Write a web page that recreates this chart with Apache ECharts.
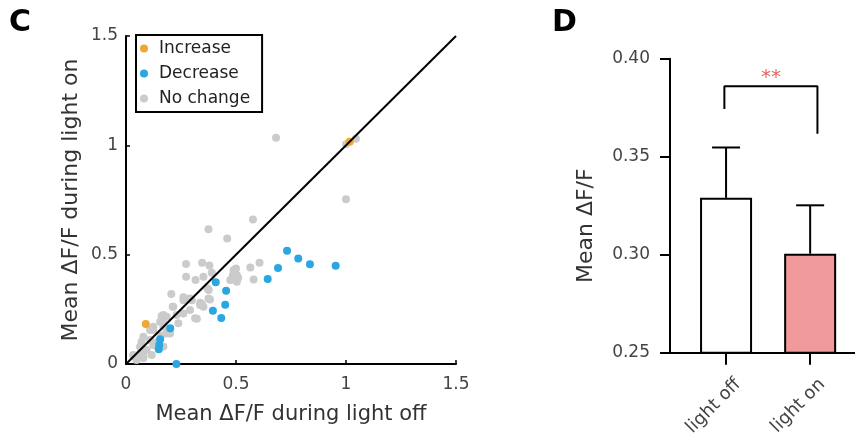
<!DOCTYPE html>
<html><head><meta charset="utf-8">
<script src="https://cdn.jsdelivr.net/npm/echarts@6/dist/echarts.min.js"></script>
<style>html,body{margin:0;padding:0;background:#fff}#c{width:855px;height:437px}</style>
</head><body><div id="c"></div>
<script>
// ---- Panel C data (x: light off, y: light on) ----
const increasePts = [[0.09, 0.183], [1.017, 1.016]];
const decreasePts = [
  [0.201, 0.163], [0.155, 0.113], [0.151, 0.087], [0.149, 0.067], [0.229, 0.0],
  [0.408, 0.374], [0.455, 0.335], [0.451, 0.271], [0.395, 0.244], [0.433, 0.210],
  [0.644, 0.389], [0.691, 0.439], [0.732, 0.518], [0.783, 0.483], [0.836, 0.456], [0.953, 0.449]
];
const noChangePts = [
  [0.682, 1.035], [0.577, 0.661], [0.375, 0.616], [0.46, 0.574], [1.0, 0.753],
  [1.0, 1.005], [1.045, 1.03],
  [0.273, 0.457], [0.346, 0.463], [0.379, 0.451], [0.5, 0.437], [0.565, 0.441], [0.607, 0.463],
  [0.58, 0.387], [0.496, 0.432], [0.504, 0.376], [0.273, 0.399], [0.316, 0.384], [0.352, 0.399],
  [0.39, 0.417], [0.489, 0.429], [0.504, 0.406], [0.474, 0.384], [0.51, 0.395], [0.486, 0.407],
  [0.376, 0.338], [0.37, 0.346], [0.206, 0.32], [0.261, 0.292], [0.261, 0.305], [0.291, 0.3],
  [0.299, 0.292], [0.337, 0.28], [0.382, 0.295], [0.375, 0.3], [0.352, 0.262], [0.345, 0.274],
  [0.337, 0.27], [0.212, 0.262], [0.215, 0.262], [0.291, 0.247], [0.322, 0.207], [0.314, 0.209],
  [0.162, 0.219], [0.17, 0.224], [0.185, 0.216], [0.23, 0.224], [0.261, 0.231], [0.155, 0.193],
  [0.17, 0.186], [0.238, 0.186], [0.124, 0.17], [0.109, 0.155], [0.124, 0.156], [0.17, 0.17],
  [0.2, 0.14], [0.185, 0.14], [0.16, 0.13], [0.14, 0.1], [0.079, 0.125], [0.071, 0.102],
  [0.109, 0.11], [0.124, 0.087], [0.17, 0.08], [0.094, 0.064], [0.064, 0.049], [0.064, 0.079],
  [0.033, 0.037], [0.033, 0.041], [0.079, 0.026], [0.079, 0.034], [0.048, 0.018], [0.117, 0.041]
];
const diagonal = [[0, 0], [1.5, 1.5]];
const legendNames = ['Increase', 'Decrease', 'No change'];

// ---- Panel D data ----
const barCategories = ['light off', 'light on'];
const barPositions = [1, 2.5];
const barMeans = [0.329, 0.3005];
const barUpper = [0.3547, 0.3252];
const barColors = ['#FFFFFF', '#F19A9C'];
const bracket = [[0.97, 0.3744], [0.97, 0.3859], [2.63, 0.3859], [2.63, 0.3617]];
const sigPos = [[1.8, 0.3905]];
const sigLabel = '**';
const barTicks = [0.25, 0.30, 0.35, 0.40];

const FONT = 'DejaVu Sans';
const chart = echarts.init(document.getElementById('c'), null, {renderer: 'canvas'});
chart.setOption({
  animation: false,
  backgroundColor: '#fff',
  textStyle: {fontFamily: FONT},
  graphic: [
    {type: 'text', left: 9, top: 8, style: {text: 'C', font: 'bold 30px "DejaVu Sans"', fill: '#000'}},
    {type: 'text', left: 552, top: 8, style: {text: 'D', font: 'bold 30px "DejaVu Sans"', fill: '#000'}}
  ],
  legend: {
    data: legendNames,
    orient: 'vertical', left: 136, top: 35,
    icon: 'circle', itemWidth: 8, itemHeight: 8, itemGap: 8,
    padding: [5, 12, 5, 4],
    borderColor: '#000', borderWidth: 2, backgroundColor: '#fff',
    textStyle: {fontFamily: FONT, fontSize: 17, color: '#222', lineHeight: 16, padding: [0, 0, 0, 6]},
    selectedMode: false
  },
  grid: [
    {left: 126, top: 36, width: 330, height: 328, outerBoundsMode: 'none', containLabel: false},
    {left: 670, top: 58.7, width: 185, height: 294, outerBoundsMode: 'none', containLabel: false}
  ],
  xAxis: [
    {
      type: 'value', gridIndex: 0, min: 0, max: 1.5, interval: 0.5,
      name: 'Mean ΔF/F during light off', nameLocation: 'middle', nameGap: 40,
      nameTextStyle: {fontFamily: FONT, fontSize: 21, color: '#333'},
      axisLine: {show: true, lineStyle: {color: '#000', width: 2}},
      axisTick: {show: true, inside: true, length: 4, lineStyle: {color: '#000', width: 1.5}},
      axisLabel: {fontFamily: FONT, fontSize: 17, color: '#444', margin: 12},
      splitLine: {show: false}
    },
    {
      type: 'value', gridIndex: 1, min: 0, max: 3.3,
      axisLine: {show: true, lineStyle: {color: '#000', width: 2}},
      axisTick: {show: true, length: 12, customValues: barPositions, lineStyle: {color: '#000', width: 2}},
      axisLabel: {
        customValues: barPositions, rotate: 45, margin: 17,
        verticalAlign: 'top', lineHeight: 34,
        fontFamily: FONT, fontSize: 18, color: '#444',
        formatter: v => barCategories[barPositions.indexOf(v)] || ''
      },
      splitLine: {show: false}
    }
  ],
  yAxis: [
    {
      type: 'value', gridIndex: 0, min: 0, max: 1.5, interval: 0.5,
      name: 'Mean ΔF/F during light on', nameLocation: 'middle', nameGap: 44,
      nameTextStyle: {fontFamily: FONT, fontSize: 22, color: '#333'},
      axisLine: {show: true, lineStyle: {color: '#000', width: 2}},
      axisTick: {show: true, inside: true, length: 4, lineStyle: {color: '#000', width: 1.5}},
      axisLabel: {fontFamily: FONT, fontSize: 17, color: '#444', margin: 8},
      splitLine: {show: false}
    },
    {
      type: 'value', gridIndex: 1, min: barTicks[0], max: barTicks[barTicks.length - 1], interval: 0.05,
      name: 'Mean ΔF/F', nameLocation: 'middle', nameGap: 73,
      nameTextStyle: {fontFamily: FONT, fontSize: 22, color: '#333', padding: [0, 40, 0, 0]},
      axisLine: {show: true, lineStyle: {color: '#000', width: 2}},
      axisTick: {show: true, length: 10, lineStyle: {color: '#000', width: 2}},
      axisLabel: {fontFamily: FONT, fontSize: 17, color: '#444', margin: 20, formatter: v => v.toFixed(2)},
      splitLine: {show: false}
    }
  ],
  series: [
    {name: 'No change', type: 'scatter', xAxisIndex: 0, yAxisIndex: 0, data: noChangePts,
     symbolSize: 8, itemStyle: {color: '#CBCBCB', opacity: 1}, z: 2},
    {name: 'Increase', type: 'scatter', xAxisIndex: 0, yAxisIndex: 0, data: increasePts,
     symbolSize: 8, itemStyle: {color: '#F0A830', opacity: 1}, z: 3},
    {name: 'Decrease', type: 'scatter', xAxisIndex: 0, yAxisIndex: 0, data: decreasePts,
     symbolSize: 8, itemStyle: {color: '#2AA7E1', opacity: 1}, z: 3},
    {type: 'line', xAxisIndex: 0, yAxisIndex: 0, data: diagonal, symbol: 'none',
     lineStyle: {color: '#000', width: 2}, z: 5, silent: true},
    {type: 'bar', xAxisIndex: 1, yAxisIndex: 1, barWidth: 52,
     data: barPositions.map((x, i) => ({value: [x, barMeans[i]], itemStyle: {color: barColors[i]}})),
     itemStyle: {borderColor: '#000', borderWidth: 2}, z: 2},
    {type: 'custom', xAxisIndex: 1, yAxisIndex: 1,
     data: barPositions.map((x, i) => [x, barMeans[i], barUpper[i]]),
     encode: {x: 0, y: [1, 2]}, z: 3,
     renderItem: (params, api) => {
       const x = api.value(0);
       const lo = api.coord([x, api.value(1)]);
       const hi = api.coord([x, api.value(2)]);
       const hw = 14;
       return {type: 'group', children: [
         {type: 'line', shape: {x1: lo[0], y1: lo[1], x2: hi[0], y2: hi[1]}, style: {stroke: '#000', lineWidth: 2}},
         {type: 'line', shape: {x1: hi[0] - hw, y1: hi[1], x2: hi[0] + hw, y2: hi[1]}, style: {stroke: '#000', lineWidth: 2}}
       ]};
     }},
    {type: 'line', xAxisIndex: 1, yAxisIndex: 1, data: bracket, symbol: 'none',
     lineStyle: {color: '#000', width: 2}, z: 3, silent: true},
    {type: 'scatter', xAxisIndex: 1, yAxisIndex: 1, data: sigPos, symbolSize: 1,
     itemStyle: {color: 'rgba(0,0,0,0)'},
     label: {show: true, position: 'inside', formatter: sigLabel, color: '#E53935', fontSize: 20, fontFamily: FONT}}
  ]
});
</script></body></html>
